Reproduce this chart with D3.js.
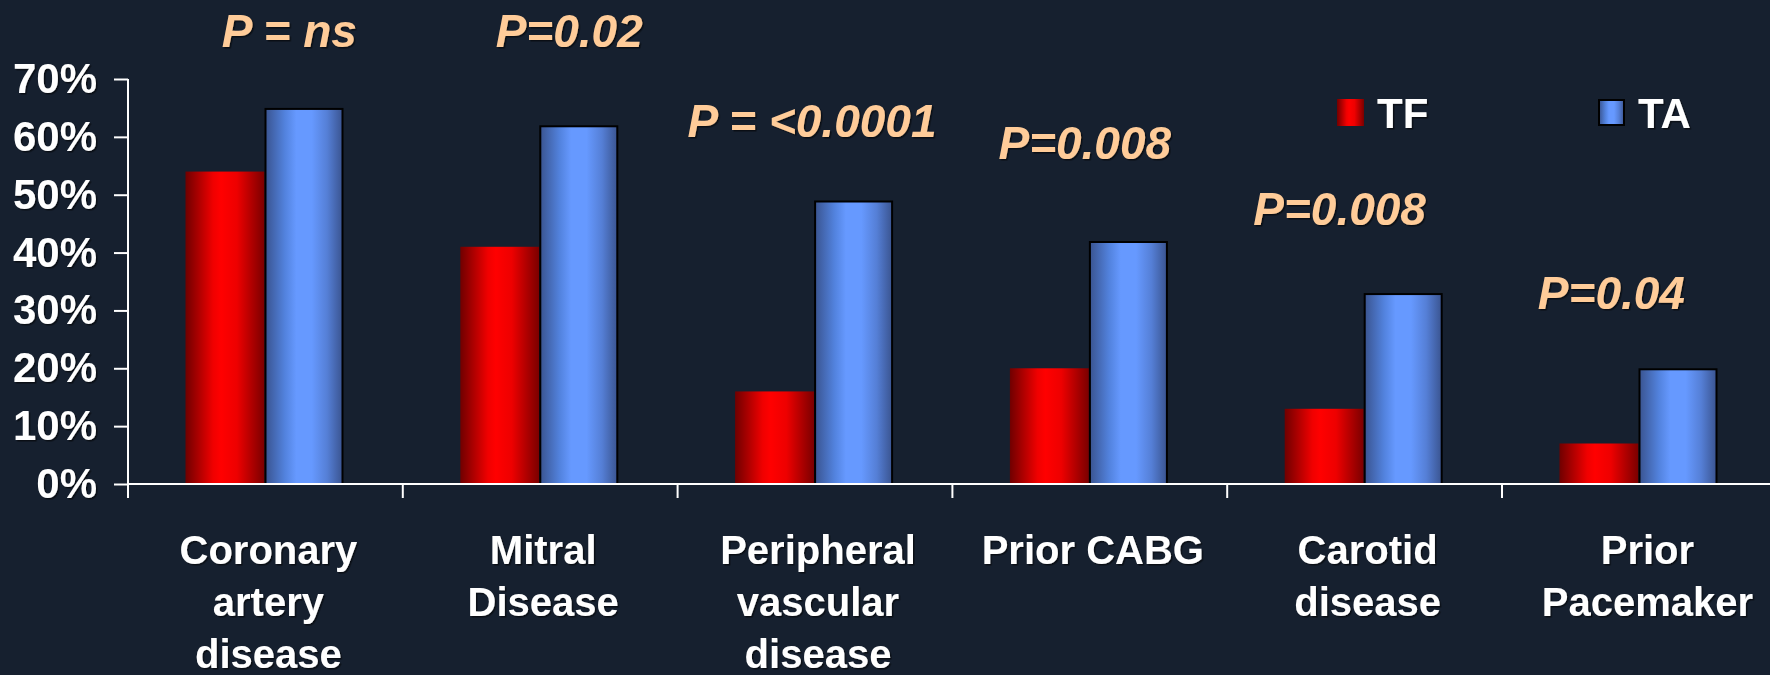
<!DOCTYPE html>
<html>
<head>
<meta charset="utf-8">
<script src="https://cdn.jsdelivr.net/npm/d3@7"></script>
<style>
  html, body { margin: 0; padding: 0; background: #16202f; }
  svg { display: block; }
  text { font-family: "Liberation Sans", Arial, sans-serif; font-weight: bold; }
</style>
</head>
<body>
<svg id="chart" width="1770" height="675"></svg>
<script>
// Comorbidities by access route (percent of patients)
const categories = [
  ["Coronary", "artery", "disease"],
  ["Mitral", "Disease"],
  ["Peripheral", "vascular", "disease"],
  ["Prior CABG"],
  ["Carotid", "disease"],
  ["Prior", "Pacemaker"]
];
const seriesNames = ["TF", "TA"];
const tfValues = [54, 41, 16, 20, 13, 7];
const taValues = [65, 62, 49, 42, 33, 20];
const pValues = ["P = ns", "P=0.02", "P = <0.0001", "P=0.008", "P=0.008", "P=0.04"];
const yTicks = [0, 10, 20, 30, 40, 50, 60, 70];

// Placement of each p-value label: height on the value axis and horizontal nudge
const pLayout = [
  { level: 75.6, dx: 24 },
  { level: 75.6, dx: 29 },
  { level: 60.0, dx: -3 },
  { level: 56.1, dx: -5 },
  { level: 44.8, dx: -25 },
  { level: 30.2, dx: -28 }
];

const svg = d3.select("#chart");
const W = 1770, H = 675;
svg.append("rect").attr("width", W).attr("height", H).attr("fill", "#16202f");

const x0 = 128, yTop = 79, yBase = 484, catW = 274.8;

const catIdx = d3.range(categories.length);
const x = d3.scaleBand().domain(catIdx).range([x0, x0 + catW * categories.length]).padding(0);
const xs = d3.scaleBand().domain(seriesNames).range([57.5, 215.5]).padding(0);
const y = d3.scaleLinear().domain([0, 70]).range([yBase, yTop]);

// Cylinder-like shading for the bars
const defs = svg.append("defs");
function shade(id, stops) {
  const g = defs.append("linearGradient").attr("id", id)
    .attr("x1", "0%").attr("x2", "100%").attr("y1", "0%").attr("y2", "0%");
  stops.forEach(([o, c]) => g.append("stop").attr("offset", o).attr("stop-color", c));
}
shade("gradTF", [["0%", "#700000"], ["35%", "#f00000"], ["45%", "#ff0000"], ["65%", "#ee0000"], ["100%", "#7a0000"]]);
shade("gradTA", [["0%", "#3a5490"], ["25%", "#5282dd"], ["40%", "#6699ff"], ["60%", "#6699ff"], ["80%", "#557fd6"], ["100%", "#3a5490"]]);

const shadow = defs.append("filter").attr("id", "txtShadow")
  .attr("x", "-10%").attr("y", "-10%").attr("width", "130%").attr("height", "140%");
shadow.append("feDropShadow").attr("dx", 1.5).attr("dy", 1.5).attr("stdDeviation", 0.6)
  .attr("flood-color", "#000").attr("flood-opacity", 0.55);

const series = [
  { name: "TF", values: tfValues, fill: "url(#gradTF)", stroke: "none" },
  { name: "TA", values: taValues, fill: "url(#gradTA)", stroke: "#000" }
];

// Bars
series.forEach(s => {
  svg.append("g").selectAll("rect").data(s.values).join("rect")
    .attr("x", (d, i) => x(i) + xs(s.name) + (s.stroke === "none" ? 0 : 1))
    .attr("width", xs.bandwidth() - (s.stroke === "none" ? 0 : 2))
    .attr("y", d => y(d) + (s.stroke === "none" ? 0 : 1))
    .attr("height", d => yBase - y(d) - (s.stroke === "none" ? 0 : 1))
    .attr("fill", s.fill)
    .attr("stroke", s.stroke)
    .attr("stroke-width", 2);
});

// Value axis
const yAxis = d3.axisLeft(y).tickValues(yTicks).tickFormat(d => d + "%").tickSize(14).tickPadding(17);
const gy = svg.append("g").attr("transform", `translate(${x0},0)`).call(yAxis);
gy.select(".domain").attr("stroke", "#fff").attr("stroke-width", 2).attr("d", `M0,${yTop}V${yBase + 14}`);
gy.selectAll(".tick line").attr("stroke", "#fff").attr("stroke-width", 2);
gy.selectAll(".tick text").attr("fill", "#fff").attr("font-size", 42)
  .attr("font-family", "Liberation Sans, Arial, sans-serif").attr("font-weight", "bold")
  .attr("filter", "url(#txtShadow)");

// Category axis: baseline with boundary ticks
const gx = svg.append("g");
gx.append("line").attr("x1", x0).attr("x2", W).attr("y1", yBase).attr("y2", yBase)
  .attr("stroke", "#fff").attr("stroke-width", 2);
gx.selectAll("line.bnd").data(catIdx.slice(1)).join("line").attr("class", "bnd")
  .attr("x1", i => x(i)).attr("x2", i => x(i))
  .attr("y1", yBase).attr("y2", yBase + 14)
  .attr("stroke", "#fff").attr("stroke-width", 2);

// Category labels
const lab = svg.append("g").selectAll("text").data(categories).join("text")
  .attr("text-anchor", "middle")
  .attr("fill", "#fff")
  .attr("font-size", 40)
  .attr("filter", "url(#txtShadow)")
  .attr("transform", (d, i) => `translate(${x(i) + x.bandwidth() / 2 + (i === 5 ? 8 : 3)},564)`);
lab.selectAll("tspan").data(d => d).join("tspan")
  .attr("x", 0).attr("y", (d, j) => j * 52).text(d => d);

// P-value annotations
svg.append("g").selectAll("text").data(pValues).join("text")
  .attr("x", (d, i) => x(i) + x.bandwidth() / 2 + pLayout[i].dx)
  .attr("y", (d, i) => y(pLayout[i].level))
  .attr("text-anchor", "middle")
  .attr("fill", "#ffcc99")
  .attr("font-size", 46)
  .attr("font-style", "italic")
  .attr("filter", "url(#txtShadow)")
  .text(d => d);

// Legend
const legend = svg.append("g");
const legendPos = [1337, 1598];
series.forEach((s, i) => {
  const g = legend.append("g").attr("transform", `translate(${legendPos[i]},99)`);
  g.append("rect").attr("x", s.stroke === "none" ? 0 : 1).attr("y", s.stroke === "none" ? 0 : 1)
    .attr("width", s.stroke === "none" ? 27 : 25).attr("height", s.stroke === "none" ? 27 : 25)
    .attr("fill", s.fill).attr("stroke", s.stroke).attr("stroke-width", 2);
  g.append("text").attr("x", 40).attr("y", 29).attr("fill", "#fff").attr("font-size", 42)
    .attr("filter", "url(#txtShadow)").text(s.name);
});
</script>
</body>
</html>
